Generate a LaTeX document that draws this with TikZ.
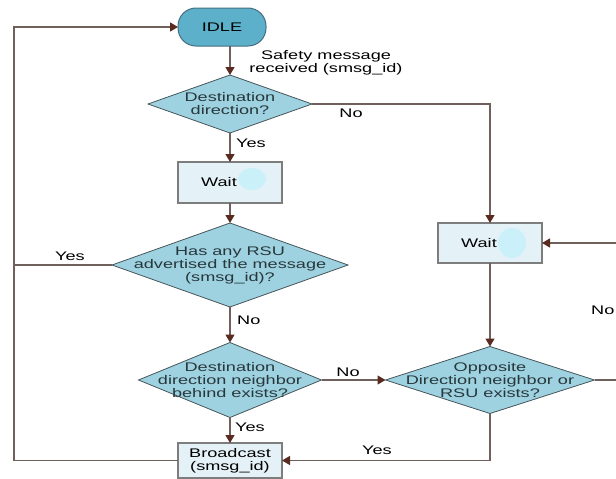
\documentclass[tikz,border=0pt]{standalone}
\usepackage{fontspec}
\setmainfont[FakeStretch=1.45]{Liberation Sans}
\usetikzlibrary{shapes.geometric,arrows.meta}

\definecolor{idlefill}{RGB}{92,176,201}
\definecolor{decfill}{RGB}{158,210,224}
\definecolor{boxfill}{RGB}{228,242,247}
\definecolor{flowline}{RGB}{112,96,92}
\definecolor{tipcol}{RGB}{88,42,32}
\definecolor{blobcol}{RGB}{200,240,250}

\begin{document}
\begin{tikzpicture}[x=1pt, y=-1pt, font=\fontsize{12.5}{13}\selectfont,
    idle/.style={rectangle, rounded corners=18pt, draw={rgb,255:red,70;green,110;blue,130}, line width=1pt, fill=idlefill, minimum width=88pt, minimum height=38pt, outer sep=0pt},
    decision/.style={diamond, draw={rgb,255:red,70;green,85;blue,90}, line width=0.8pt, fill=decfill, inner sep=0pt, outer sep=0pt},
    dlabel/.style={align=center, inner sep=0pt, text={rgb,255:red,40;green,55;blue,60}},
    proc/.style={rectangle, draw={rgb,255:red,125;green,125;blue,125}, line width=1.2pt, fill=boxfill, minimum width=104pt, outer sep=0pt, align=center},
    elabel/.style={inner sep=1pt, align=center},
    line/.style={draw=flowline, line width=1.3pt},
    flow/.style={line, -{Triangle[color=tipcol, width=9pt, length=8pt]}}]

        \useasboundingbox (0,0) rectangle (616,479);
        \clip (0,0) rectangle (616,479);

        % Start
        \node[idle] (idle) at (222,27) {IDLE};

        % Decisions
        \foreach \dname/\dx/\dy/\dw/\dh/\dtext in {
            dest/230/104/164/58/{Destination\\direction?},
            rsu/230/265/236/84/{Has any RSU\\advertised the message\\(smsg\_id)?},
            behind/230/380/183/75/{Destination\\direction neighbor\\behind exists?},
            opp/490/380/209/67/{Opposite\\Direction neighbor or\\RSU exists?}}{
            \node[decision, minimum width=\dw, minimum height=\dh] (\dname) at (\dx,\dy) {};
            \node[dlabel] (\dname text) at (\dname) {\dtext};
        }

        % Boxes
        \node[proc, minimum height=41pt] (wait1) at (230,182.5) {Wait\hspace{22pt}};
        \node[proc, minimum height=40pt] (wait2) at (490,243) {Wait\hspace{22pt}};
        \node[proc, minimum height=35pt] (bcast) at (230,460.5) {Broadcast\\(smsg\_id)};
        \fill[blobcol, opacity=0.9] (252,179) ellipse (14 and 11);
        \fill[blobcol, opacity=0.9] (512,243) ellipse (14 and 15);

        % Rails
        \coordinate (leftrail) at (14,0);
        \coordinate (rightrail) at (620,0);

        % Arrows
        \draw[flow] (idle.south -| dest.north) -- (dest.north);
        \draw[flow] (dest.south) -- (wait1.north);
        \draw[flow] (wait1.south) -- (rsu.north);
        \draw[flow] (rsu.south) -- (behind.north);
        \draw[flow] (behind.south) -- (bcast.north);
        \draw[flow] (behind.east) -- (opp.west);
        \draw[flow] (dest.east) -| (wait2.north);
        \draw[flow] (wait2.south) -- (opp.north);
        \draw[flow] (opp.east) -- (opp.east -| rightrail) |- (wait2.east);
        \draw[flow] (opp.south) |- (bcast.east);
        \draw[line] (rsu.west) -- (rsu.west -| leftrail);
        \draw[flow] (bcast.west) -| (leftrail |- idle.west) -- (idle.west);

        % Labels
        \node[elabel] (lsafe) at (326,63) {Safety message\\received (smsg\_id)};
        \node[elabel, anchor=west] (lyes1) at (235,143) {Yes};
        \node[elabel] (lno1) at (351,113) {No};
        \node[elabel] (lyes2) at (70,256) {Yes};
        \node[elabel, anchor=west] (lno2) at (236,320) {No};
        \node[elabel, anchor=west] (lyes3) at (234,427) {Yes};
        \node[elabel] (lno3) at (348,372) {No};
        \node[elabel] (lyes4) at (377,450) {Yes};
        \node[elabel, anchor=west] (lno4) at (590,310) {No};

    \end{tikzpicture}
\end{document}
